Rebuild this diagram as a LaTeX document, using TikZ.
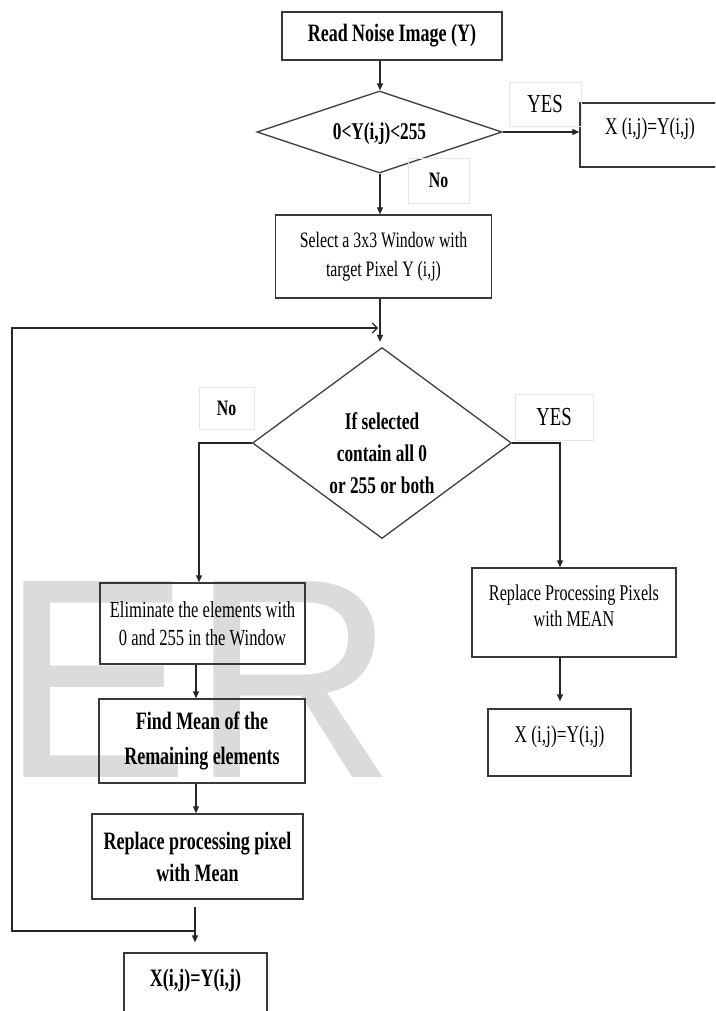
\documentclass[tikz,border=0pt]{standalone}
\usepackage{fontspec}
\setmainfont{Liberation Serif}
\newfontfamily\tnr[FakeStretch=0.72]{Liberation Serif}
\newfontfamily\wmfont{Liberation Sans}
\usetikzlibrary{shapes.geometric,arrows.meta}
\begin{document}
\begin{tikzpicture}[x=1pt,y=-1pt,
  box/.style={draw=black!78, line width=1.4pt, rectangle, inner sep=0pt, align=center},
  lbl/.style={draw=black!10, line width=0.6pt, rectangle, inner sep=0pt},
  dia/.style={draw=black!75, line width=1.3pt, diamond, inner sep=0pt, align=center},
  conn/.style={draw=black!85, line width=1.1pt},
  arr/.style={conn, -{Triangle[length=7pt,width=6pt]}},
  fb/.style 2 args={font=\tnr\bfseries\fontsize{#1}{#2}\selectfont},
  fr/.style 2 args={font=\tnr\fontsize{#1}{#2}\selectfont},
]
\useasboundingbox (0,0) rectangle (715,1011);
\fill[white] (0,0) rectangle (715,1011);
\clip (0,0) rectangle (715,1011);

% watermark
\node[anchor=base west, inner sep=0pt, text=black!14,
      font=\wmfont\fontsize{285}{285}\selectfont] (wm) at (0.5,777) {ER};

% boxes
\node[box, minimum width=220pt, minimum height=48pt, fb={25}{30}] (b1) at (392,36) {Read Noise Image (Y)};
\node[dia, aspect=2.99, minimum width=245pt, minimum height=82pt,
      label={[fb={24}{28}, yshift=-2pt]center:{0<Y(i,j)<255}}] (d1) at (379.5,132) {};
\node[box, minimum width=140pt, minimum height=64pt,
      label={[fr={24}{28}, yshift=6pt]center:{X (i,j)=Y(i,j)}}] (x1) at (650,135) {};
\node[box, minimum width=216pt, minimum height=83pt, fr={22}{29}] (b2) at (383.5,256.5) {Select a 3x3 Window with\\target Pixel Y (i,j)};
\node[dia, aspect=1.36, minimum width=259pt, minimum height=191pt,
      label={[fb={24}{32}, align=center, yshift=-10pt]center:{If selected\\contain all 0\\or 255 or both}}] (d2) at (382,443) {};
\node[box, minimum width=205pt, minimum height=81pt, fr={23}{28}] (elim) at (202.5,623.5) {Eliminate the elements with\\0 and 255 in the Window};
\node[box, minimum width=206pt, minimum height=84pt, fb={25}{35}] (find) at (202,741) {Find Mean of the\\Remaining elements};
\node[box, minimum width=211pt, minimum height=85pt, fb={25}{32}] (rep) at (197.5,856.5) {Replace processing pixel\\with Mean};
\node[box, minimum width=143pt, minimum height=62pt,
      label={[fb={25}{30}, yshift=4pt]center:{X(i,j)=Y(i,j)}}] (fin) at (195.5,984) {};
\node[box, minimum width=204pt, minimum height=89pt,
      label={[fr={22.5}{26}, align=center, yshift=6.5pt]center:{Replace Processing Pixels\\with MEAN}}] (rpl) at (574,612.5) {};
\node[box, minimum width=143pt, minimum height=67pt,
      label={[fr={24}{28}, yshift=5.5pt]center:{X (i,j)=Y(i,j)}}] (xr) at (559.5,742.5) {};

% branch labels
\node[lbl, minimum width=72pt, minimum height=44pt, fr={26}{30}] (yes1) at (545,104) {YES};
\node[lbl, minimum width=61pt, minimum height=45pt, fb={22}{26}] (no1) at (438.5,180.5) {No};
\node[lbl, minimum width=55pt, minimum height=42pt, fb={22}{26}] (no2) at (226.5,408) {No};
\node[lbl, minimum width=78pt, minimum height=46pt, fr={26}{30}] (yes2) at (554,417) {YES};

% helper coordinates
\coordinate (ax1) at (380,0);
\coordinate (ax3) at (195,0);
\coordinate (ax4) at (196,0);
\coordinate (ax5) at (199,0);
\coordinate (ax6) at (560,0);
\coordinate (lb) at (195,931);
\coordinate (lc) at (12,600);
\coordinate (lt) at (378,328);

% connectors
\draw[arr] (b1.south -| ax1) -- (d1.north -| ax1);
\draw[arr] (d1.east) -- (d1.east -| x1.west);
\draw[arr] (d1.south -| ax1) -- (b2.north -| ax1);
\draw[arr, shorten >=5pt] (b2.south -| ax1) -- (d2.north -| ax1);
\draw[arr] (d2.west) -| (elim.north -| ax5);
\draw[arr] (d2.east) -| (rpl.north -| ax6);
\draw[arr, shorten >=7pt] (rpl.south -| ax6) -- (xr.north -| ax6);
\draw[arr] (elim.south -| ax4) -- (find.north -| ax4);
\draw[arr] (find.south -| ax4) -- (rep.north -| ax4);
\draw[arr, shorten <=7pt, shorten >=10pt] (rep.south -| ax3) -- (fin.north -| ax3);
\draw[conn, -{Straight Barb[length=5pt,width=10pt]}] (lb) -| (lc) |- (lt);
\end{tikzpicture}
\end{document}
